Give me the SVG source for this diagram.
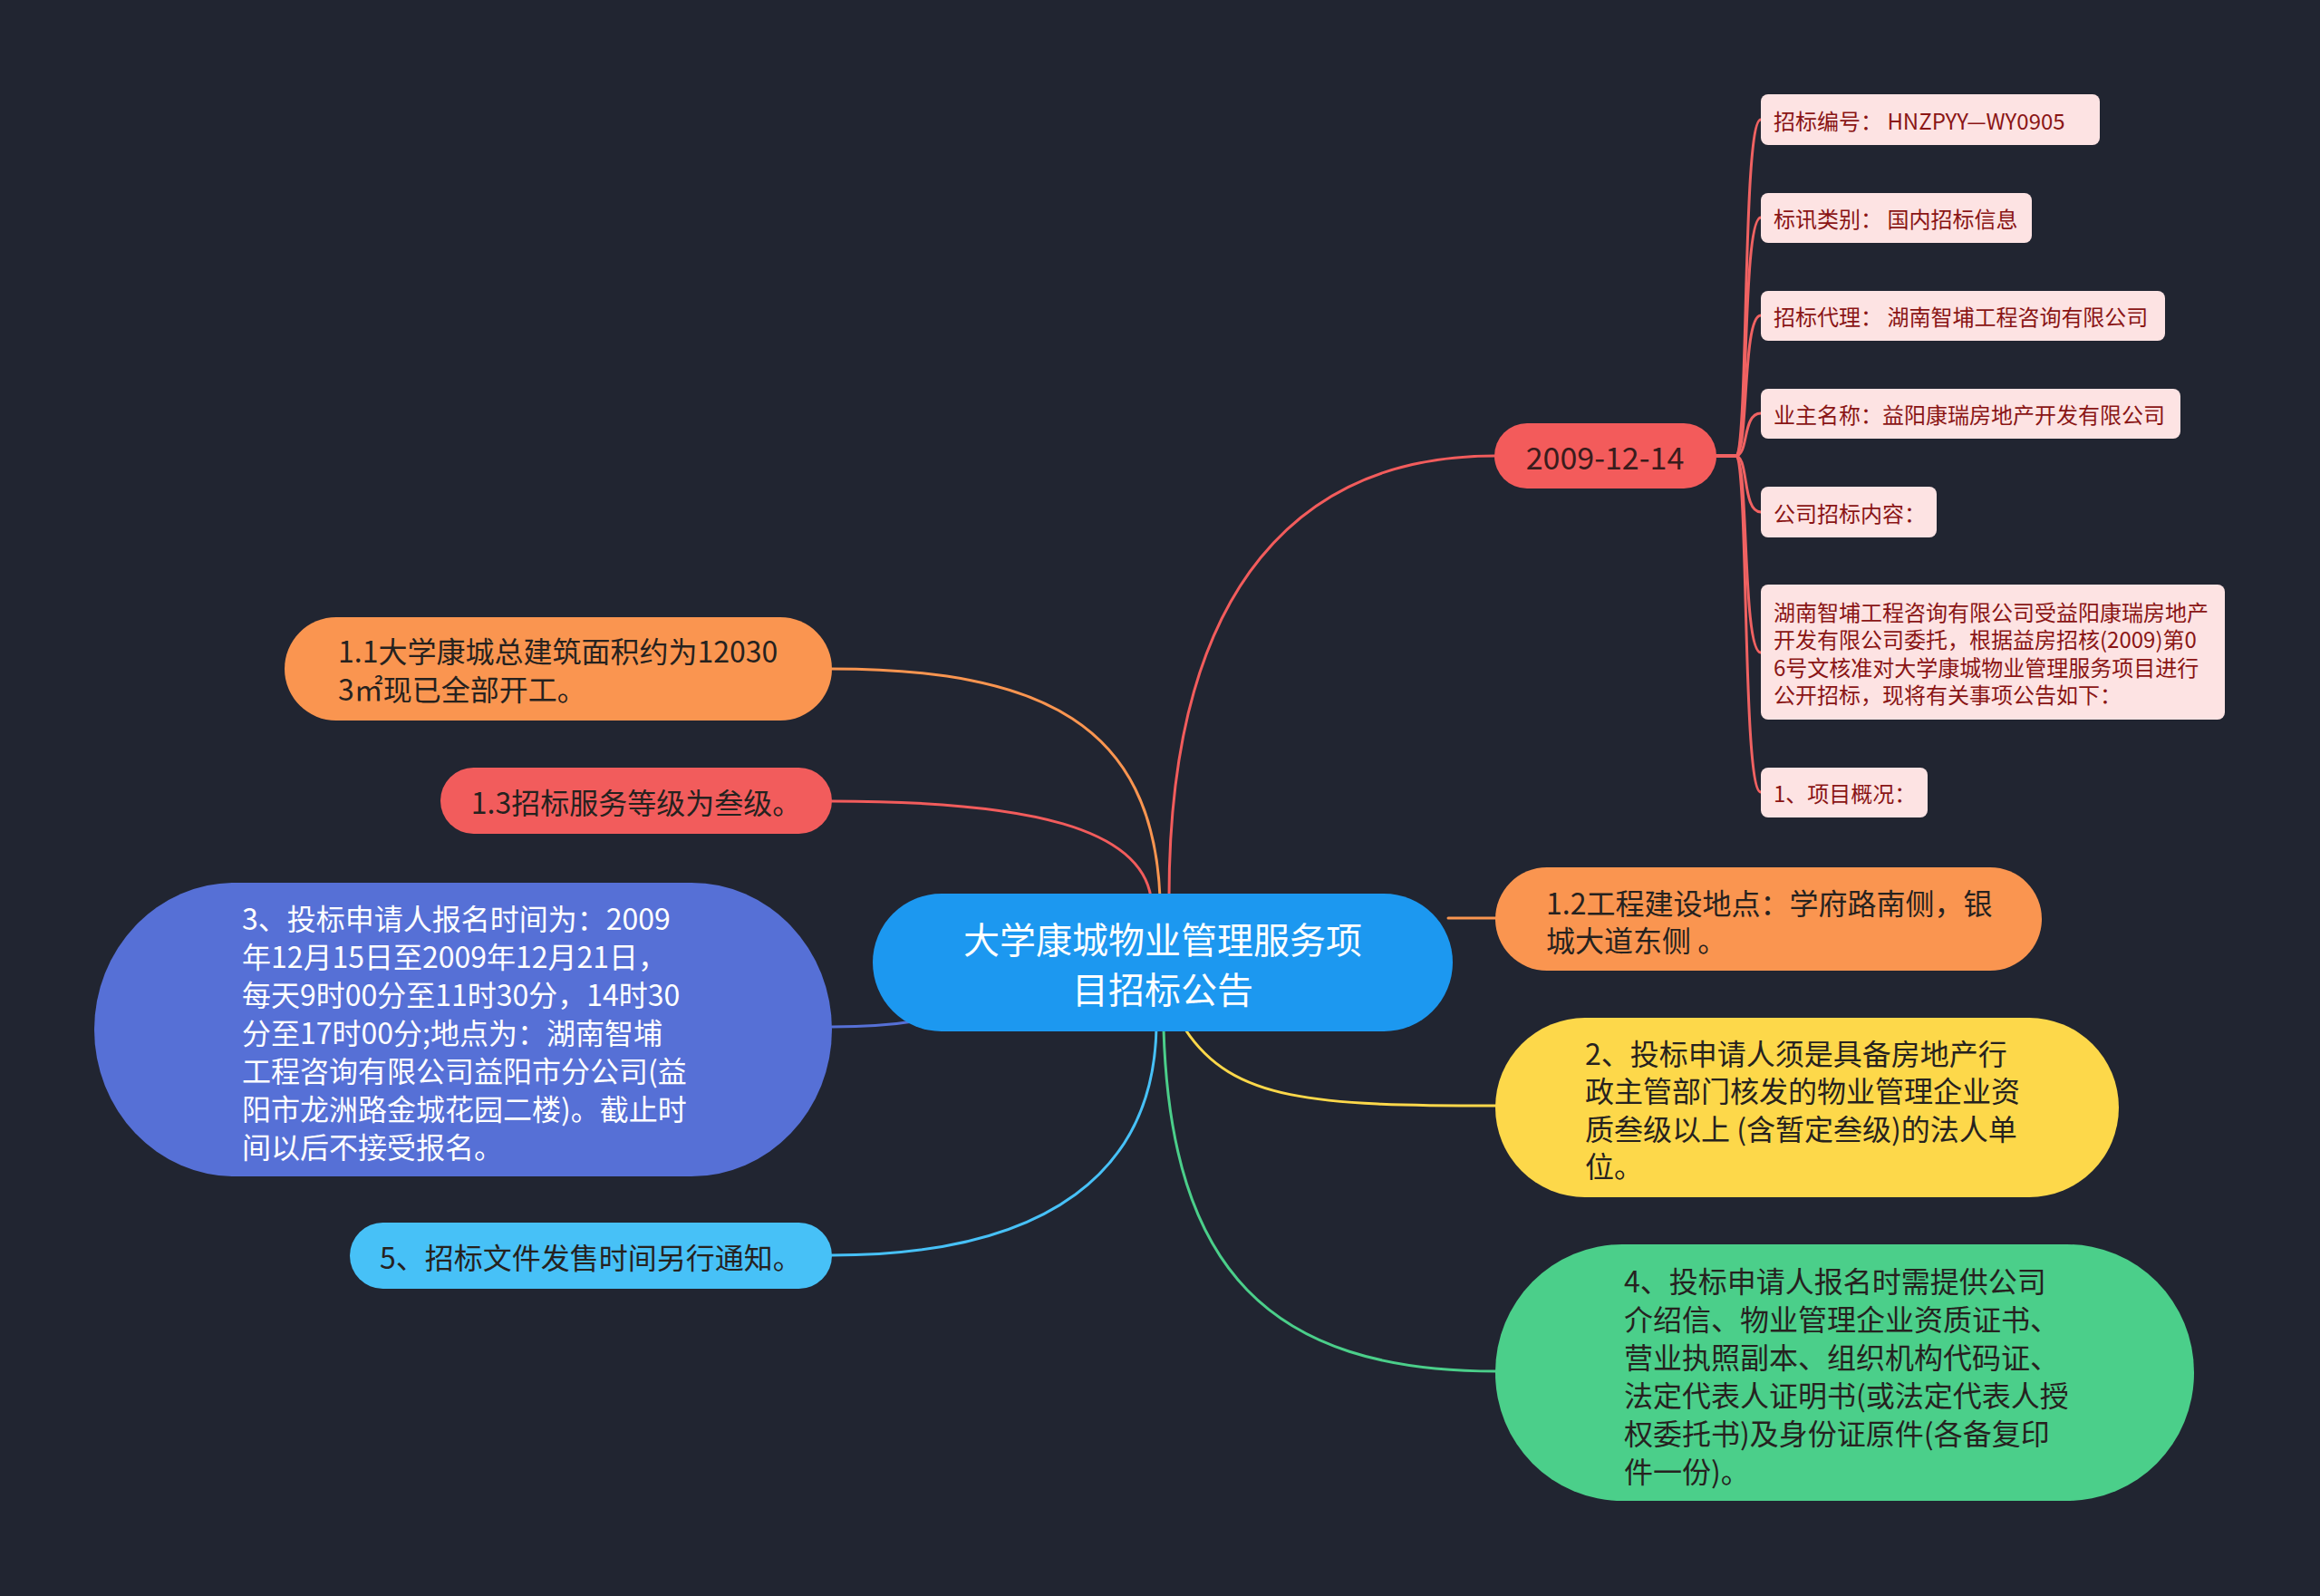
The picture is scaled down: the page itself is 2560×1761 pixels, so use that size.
<svg xmlns="http://www.w3.org/2000/svg" width="2560" height="1761" viewBox="0 0 2560 1761">
<style>
text{font-family:"Noto Sans CJK SC","Noto Sans",sans-serif;dominant-baseline:central}
.c{fill:none;stroke-width:3;stroke-linecap:round}
.t1{font-size:32px;fill:#26221f}
.tw{font-size:32px;fill:#ffffff}
.pk rect{fill:#fde3e3}
.pk text{font-size:24px;fill:#8a1515}
</style>
<rect width="2560" height="1761" fill="#212531"/>
<g id="connectors">
  <path class="c" stroke="#f25c5c" d="M1290 990 C1290 640 1440 503 1649 503"/>
  <path class="c" stroke="#fa9550" d="M918 738 C1150 738 1272 800 1280 990"/>
  <path class="c" stroke="#f25c5c" d="M918 884 C1140 884 1258 915 1270 990"/>
  <path class="c" stroke="#5670d6" d="M918 1133 C960 1133 990 1130 1015 1126"/>
  <path class="c" stroke="#47c1f7" d="M918 1385 C1160 1385 1273 1290 1276 1134"/>
  <path class="c" stroke="#fa9550" d="M1598 1013 L1651 1013"/>
  <path class="c" stroke="#fdd84a" d="M1308 1136 C1360 1215 1450 1220 1651 1220"/>
  <path class="c" stroke="#4bcf8a" d="M1284 1136 C1292 1400 1400 1513 1651 1513"/>
  <g stroke="#f06262">
    <path class="c" d="M1894 503 L1915 503 C1930 503 1922 132 1943 132"/>
    <path class="c" d="M1894 503 L1915 503 C1930 503 1922 240 1943 240"/>
    <path class="c" d="M1894 503 L1915 503 C1930 503 1922 348 1943 348"/>
    <path class="c" d="M1894 503 L1915 503 C1930 503 1922 456 1943 456"/>
    <path class="c" d="M1894 503 L1915 503 C1930 503 1922 565 1943 565"/>
    <path class="c" d="M1894 503 L1915 503 C1930 503 1922 720 1943 720"/>
    <path class="c" d="M1894 503 L1915 503 C1930 503 1922 874 1943 874"/>
  </g>
</g>
<g id="center">
  <rect x="963" y="986" width="640" height="152" rx="76" fill="#1c98f0"/>
  <text x="1283" y="1035" font-size="40" fill="#fff" text-anchor="middle">大学康城物业管理服务项</text>
  <text x="1283" y="1090" font-size="40" fill="#fff" text-anchor="middle">目招标公告</text>
</g>
<g id="n2009">
  <rect x="1649" y="467" width="245" height="72" rx="36" fill="#f35b5b"/>
  <text x="1771" y="503" font-size="34" fill="#3a1c1c" text-anchor="middle">2009-12-14</text>
</g>
<g id="p1" class="pk"><rect x="1943" y="104" width="374" height="56" rx="8"/><text x="1957" y="132">招标编号：  HNZPYY—WY0905</text></g>
<g id="p2" class="pk"><rect x="1943" y="213" width="299" height="55" rx="8"/><text x="1957" y="240">标讯类别：  国内招标信息</text></g>
<g id="p3" class="pk"><rect x="1943" y="321" width="446" height="55" rx="8"/><text x="1957" y="348">招标代理：  湖南智埔工程咨询有限公司</text></g>
<g id="p4" class="pk"><rect x="1943" y="429" width="463" height="55" rx="8"/><text x="1957" y="456">业主名称：益阳康瑞房地产开发有限公司</text></g>
<g id="p5" class="pk"><rect x="1943" y="537" width="194" height="56" rx="8"/><text x="1957" y="565">公司招标内容：</text></g>
<g id="p6" class="pk"><rect x="1943" y="645" width="512" height="149" rx="8"/>
  <text x="1957" y="674">湖南智埔工程咨询有限公司受益阳康瑞房地产</text>
  <text x="1957" y="704">开发有限公司委托，根据益房招核(2009)第0</text>
  <text x="1957" y="735">6号文核准对大学康城物业管理服务项目进行</text>
  <text x="1957" y="765">公开招标，现将有关事项公告如下：</text>
</g>
<g id="p7" class="pk"><rect x="1943" y="847" width="184" height="55" rx="8"/><text x="1957" y="874">1、项目概况：</text></g>
<g id="n11">
  <rect x="314" y="681" width="604" height="114" rx="57" fill="#fa9550"/>
  <text class="t1" x="373" y="717">1.1大学康城总建筑面积约为12030</text>
  <text class="t1" x="373" y="759">3㎡现已全部开工。</text>
</g>
<g id="n13">
  <rect x="486" y="847" width="432" height="73" rx="36.5" fill="#f25c5c"/>
  <text class="t1" x="702" y="884" text-anchor="middle">1.3招标服务等级为叁级。</text>
</g>
<g id="n3">
  <rect x="104" y="974" width="814" height="324" rx="155" ry="162" fill="#5670d6"/>
  <text class="tw" x="267" y="1012">3、投标申请人报名时间为：2009</text>
  <text class="tw" x="267" y="1054">年12月15日至2009年12月21日，</text>
  <text class="tw" x="267" y="1096">每天9时00分至11时30分，14时30</text>
  <text class="tw" x="267" y="1138">分至17时00分;地点为：湖南智埔</text>
  <text class="tw" x="267" y="1180">工程咨询有限公司益阳市分公司(益</text>
  <text class="tw" x="267" y="1222">阳市龙洲路金城花园二楼)。截止时</text>
  <text class="tw" x="267" y="1264">间以后不接受报名。</text>
</g>
<g id="n5">
  <rect x="386" y="1349" width="532" height="73" rx="36.5" fill="#47c1f7"/>
  <text class="t1" x="652" y="1386" text-anchor="middle">5、招标文件发售时间另行通知。</text>
</g>
<g id="n12">
  <rect x="1650" y="957" width="603" height="114" rx="57" fill="#fa9550"/>
  <text class="t1" x="1706" y="995">1.2工程建设地点：学府路南侧，银</text>
  <text class="t1" x="1706" y="1036">城大道东侧 。</text>
</g>
<g id="n2">
  <rect x="1650" y="1123" width="688" height="198" rx="99" fill="#fdd84a"/>
  <text class="t1" x="1749" y="1161">2、投标申请人须是具备房地产行</text>
  <text class="t1" x="1749" y="1202">政主管部门核发的物业管理企业资</text>
  <text class="t1" x="1749" y="1244">质叁级以上 (含暂定叁级)的法人单</text>
  <text class="t1" x="1749" y="1285">位。</text>
</g>
<g id="n4">
  <rect x="1650" y="1373" width="771" height="283" rx="140" ry="141" fill="#4bcf8a"/>
  <text class="t1" x="1792" y="1412">4、投标申请人报名时需提供公司</text>
  <text class="t1" x="1792" y="1454">介绍信、物业管理企业资质证书、</text>
  <text class="t1" x="1792" y="1496">营业执照副本、组织机构代码证、</text>
  <text class="t1" x="1792" y="1538">法定代表人证明书(或法定代表人授</text>
  <text class="t1" x="1792" y="1580">权委托书)及身份证原件(各备复印</text>
  <text class="t1" x="1792" y="1622">件一份)。</text>
</g>
</svg>
